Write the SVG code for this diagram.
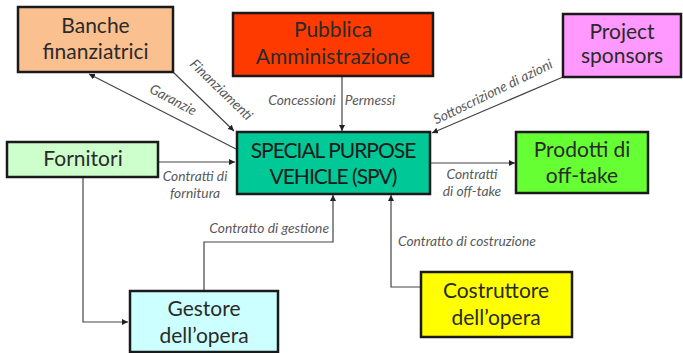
<svg xmlns="http://www.w3.org/2000/svg" width="683" height="353" viewBox="0 0 683 353">
<defs>
<marker id="ah" viewBox="0 0 10 10" refX="10" refY="5" markerWidth="6" markerHeight="6" markerUnits="userSpaceOnUse" orient="auto">
<path d="M0,0 L10,5 L0,10 z" fill="#222"/>
</marker>
</defs>
<style>
.box{stroke:#1a1a1a;stroke-width:2.5}
.nt{font-family:Lato,"Open Sans",sans-serif;font-size:21px;font-weight:400;fill:#2a2a2a;text-anchor:middle}
.spv{font-family:Lato,"Open Sans",sans-serif;font-size:21px;font-weight:400;fill:#1a1a1a;text-anchor:middle;letter-spacing:-1px}
.lb{font-family:Lato,"Open Sans",sans-serif;font-size:13.8px;font-weight:400;font-style:italic;fill:#595959}
.c{fill:none;stroke:#444;stroke-width:1.2}
</style>
<rect width="683" height="353" fill="#fff"/>
<g id="connectors">
<line class="c" x1="236" y1="149" x2="89" y2="74" marker-end="url(#ah)"/>
<line class="c" x1="173" y1="72" x2="234" y2="131" marker-end="url(#ah)"/>
<line class="c" x1="342" y1="77" x2="342" y2="131" marker-end="url(#ah)"/>
<line class="c" x1="563" y1="77" x2="432" y2="133" marker-end="url(#ah)"/>
<line class="c" x1="158" y1="162" x2="235" y2="162" marker-end="url(#ah)"/>
<line class="c" x1="431" y1="163" x2="515" y2="163" marker-end="url(#ah)"/>
<polyline class="c" points="204,291 204,242 333,242 333,195" marker-end="url(#ah)"/>
<polyline class="c" points="83,177 83,322 128,322" marker-end="url(#ah)"/>
<polyline class="c" points="421,287 391,287 391,195" marker-end="url(#ah)"/>
<text class="lb" text-anchor="middle" transform="translate(171,104) rotate(28)">Garanzie</text>
<text class="lb" text-anchor="middle" transform="translate(218,93) rotate(44)">Finanziamenti</text>
<text class="lb" text-anchor="middle" x="302" y="105">Concessioni</text>
<text class="lb" text-anchor="middle" x="370" y="105">Permessi</text>
<text class="lb" text-anchor="middle" transform="translate(495,96) rotate(-26)">Sottoscrizione di azioni</text>
<text class="lb" text-anchor="middle" x="195" y="181">Contratti di</text>
<text class="lb" text-anchor="middle" x="195" y="198">fornitura</text>
<text class="lb" text-anchor="middle" x="472" y="179">Contratti</text>
<text class="lb" text-anchor="middle" x="472" y="196">di off-take</text>
<text class="lb" text-anchor="end" x="329" y="233">Contratto di gestione</text>
<text class="lb" x="398" y="246">Contratto di costruzione</text>
</g>
<g id="banche">
<rect class="box" x="18" y="7" width="155" height="65" fill="#FAC090"/>
<text class="nt" x="95.5" y="33">Banche</text>
<text class="nt" x="95.5" y="59">finanziatrici</text>
</g>
<g id="pubblica">
<rect class="box" x="233" y="13" width="200" height="63" fill="#FF3A00"/>
<text class="nt" x="333" y="37">Pubblica</text>
<text class="nt" x="333" y="64">Amministrazione</text>
</g>
<g id="sponsors">
<rect class="box" x="563" y="14" width="118" height="63" fill="#FF99FF"/>
<text class="nt" x="622" y="39">Project</text>
<text class="nt" x="622" y="63">sponsors</text>
</g>
<g id="fornitori">
<rect class="box" x="7" y="142" width="151" height="35" fill="#CCFFCC"/>
<text class="nt" x="83" y="166">Fornitori</text>
</g>
<g id="spv">
<rect class="box" x="237" y="132" width="193" height="62" fill="#00C896"/>
<text class="spv" x="333" y="158">SPECIAL PURPOSE</text>
<text class="spv" x="333" y="184">VEHICLE (SPV)</text>
</g>
<g id="prodotti">
<rect class="box" x="516" y="132" width="132" height="61" fill="#66FF33"/>
<text class="nt" x="582" y="157">Prodotti di</text>
<text class="nt" x="582" y="183">off-take</text>
</g>
<g id="gestore">
<rect class="box" x="130" y="291" width="148" height="61" fill="#CCFFFF"/>
<text class="nt" x="204" y="316">Gestore</text>
<text class="nt" x="204" y="343">dell’opera</text>
</g>
<g id="costruttore">
<rect class="box" x="421" y="272" width="151" height="65" fill="#FFFF00"/>
<text class="nt" x="496" y="298">Costruttore</text>
<text class="nt" x="496" y="325">dell’opera</text>
</g>
</svg>
